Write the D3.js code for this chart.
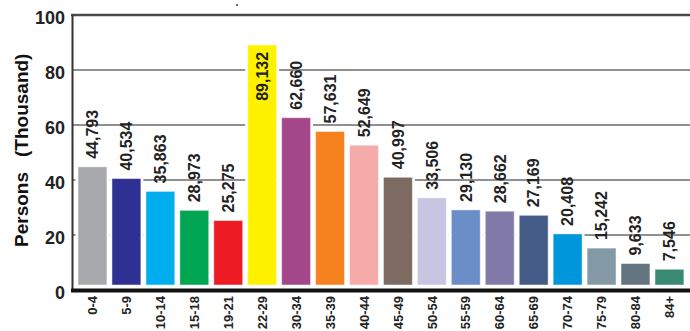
<!DOCTYPE html>
<html>
<head>
<meta charset="utf-8">
<script src="https://cdn.jsdelivr.net/npm/d3@7"></script>
<style>
  html, body { margin: 0; padding: 0; background: #fff; overflow: hidden; }
  svg { display: block; font-family: "Liberation Sans", Arial, sans-serif; }
</style>
</head>
<body>
<svg id="chart" width="690" height="331"></svg>
<script>
const categories = ["0-4","5-9","10-14","15-18","19-21","22-29","30-34","35-39","40-44","45-49","50-54","55-59","60-64","65-69","70-74","75-79","80-84","84+"];
const values = [44793, 40534, 35863, 28973, 25275, 89132, 62660, 57631, 52649, 40997, 33506, 29130, 28662, 27169, 20408, 15242, 9633, 7546];
const colors = ["#a7a9ac","#2e3192","#00aeef","#00a651","#ed1c24","#fff200","#a4478a","#f6821f","#f6abab","#7d6a61","#c8c5e2","#6b8dc8","#8179a8","#455b87","#0096db","#8499a6","#627581","#3a8a72"];
const yTicks = [0, 20, 40, 60, 80, 100];
const yTitleA = "Persons";
const yTitleB = "(Thousand)";
const insideLabelIndex = 5;

const svg = d3.select("#chart");
const y = d3.scaleLinear().domain([0, 100]).range([290, 15]);
const x = d3.scaleBand().domain(categories).range([75.5, 686.4]).paddingInner(0.147).paddingOuter(0.0735);
const data = categories.map((c, i) => ({ c, v: values[i] / 1000, raw: values[i], color: colors[i], i }));
const fmt = d3.format(",");
const barBase = y(0) - 5;

// gridlines
svg.append("g").selectAll("line").data(yTicks.filter(t => t > 0 && t < 100)).join("line")
  .attr("x1", 73).attr("x2", 690)
  .attr("y1", d => y(d)).attr("y2", d => y(d))
  .attr("stroke", "#6b6b6b").attr("stroke-width", 1.5);

// white columns masking gridlines behind bars
const gap = x.step() - x.bandwidth();
svg.append("g").selectAll("rect").data(data).join("rect")
  .attr("x", d => x(d.c) - gap / 2).attr("width", x.step())
  .attr("y", d => y(d.v)).attr("height", d => y(0) - y(d.v))
  .attr("fill", "#fff");

// bars
svg.append("g").selectAll("rect").data(data).join("rect")
  .attr("x", d => x(d.c)).attr("width", x.bandwidth())
  .attr("y", d => y(d.v)).attr("height", d => barBase - y(d.v))
  .attr("fill", d => d.color)
  .attr("stroke", "#ffffff").attr("stroke-opacity", 0.5).attr("stroke-width", 1);

// value labels
svg.append("g").selectAll("text").data(data).join("text")
  .attr("transform", d => {
    const cx = x(d.c) + x.bandwidth() / 2;
    const yy = d.i === insideLabelIndex ? y(d.v) + 7 : y(d.v) - 8;
    return `translate(${cx},${yy}) rotate(-90)`;
  })
  .attr("text-anchor", d => d.i === insideLabelIndex ? "end" : "start")
  .attr("dy", "0.36em")
  .attr("font-size", 16).attr("font-weight", "bold").attr("fill", "#222")
  .text(d => fmt(d.raw));

// top border line
svg.append("line").attr("x1", 71).attr("x2", 690).attr("y1", y(100)).attr("y2", y(100))
  .attr("stroke", "#4a4a4a").attr("stroke-width", 2.5);

// left axis
const yAxis = d3.axisLeft(y).tickValues(yTicks).tickSize(0).tickPadding(0).tickFormat(d3.format("d"));
const gy = svg.append("g").attr("transform", "translate(72,0)").call(yAxis);
gy.select(".domain").attr("stroke", "#333").attr("stroke-width", 2);
gy.selectAll("text").attr("x", -7).attr("dy", "0.45em")
  .attr("font-size", 18).attr("font-weight", "bold").attr("fill", "#222")
  .attr("font-family", "Liberation Sans, Arial, sans-serif");

// bottom axis
const xAxis = d3.axisBottom(x).tickSize(0).tickPadding(0);
const gx = svg.append("g").attr("transform", `translate(0,${y(0)})`).call(xAxis);
gx.select(".domain").remove();
svg.append("line").attr("x1", 71).attr("x2", 690).attr("y1", y(0) + 0.5).attr("y2", y(0) + 0.5)
  .attr("stroke", "#111").attr("stroke-width", 4);
gx.selectAll("text")
  .attr("transform", "translate(0,6) rotate(-90)")
  .attr("x", 0).attr("y", 0).attr("dy", "0.36em")
  .attr("text-anchor", "end")
  .attr("font-size", 13).attr("font-weight", "bold").attr("fill", "#222")
  .attr("font-family", "Liberation Sans, Arial, sans-serif");

// y title
svg.append("text").attr("transform", "translate(28,247) rotate(-90)")
  .attr("text-anchor", "start").attr("font-size", 19).attr("font-weight", "bold").attr("fill", "#111")
  .text(yTitleA);
svg.append("text").attr("transform", "translate(28,157) rotate(-90)")
  .attr("text-anchor", "start").attr("font-size", 19).attr("font-weight", "bold").attr("fill", "#111")
  .text(yTitleB);

// small stray dot at top
svg.append("circle").attr("cx", 237).attr("cy", 5).attr("r", 1).attr("fill", "#333");
</script>
</body>
</html>
